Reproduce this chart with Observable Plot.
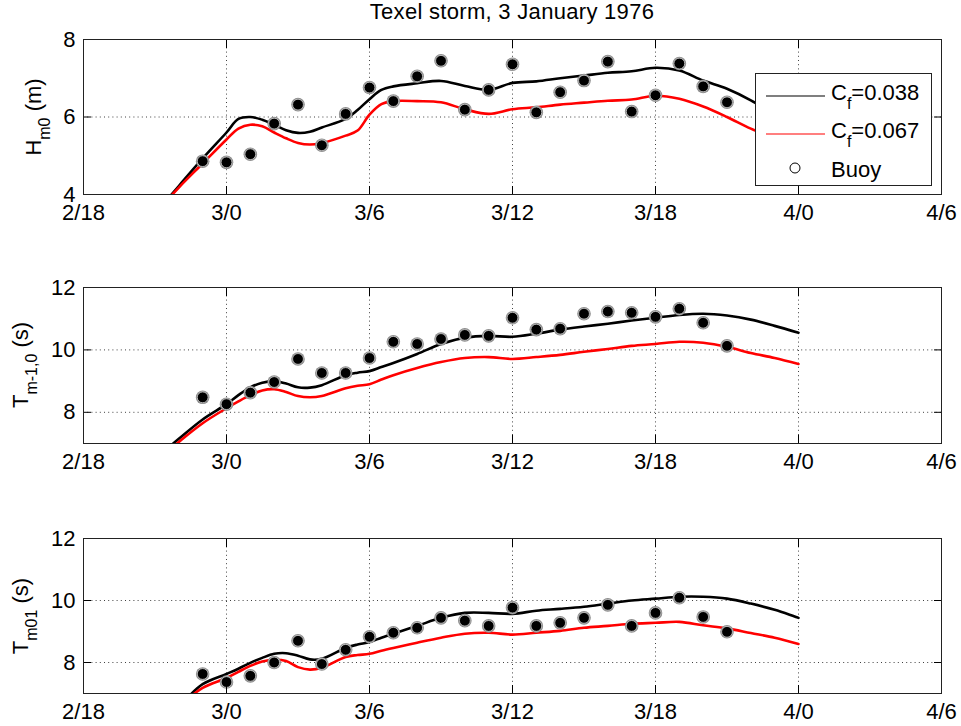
<!DOCTYPE html>
<html><head><meta charset="utf-8">
<script src="https://cdn.jsdelivr.net/npm/d3@7"></script>
<script src="https://cdn.jsdelivr.net/npm/@observablehq/plot@0.6"></script>
<style>
body{margin:0;background:#fff;}
#wrap{position:relative;width:961px;height:726px;font-family:"Liberation Sans",Arial,Helvetica,sans-serif;color:#000;overflow:hidden;}
.panel{position:absolute;left:0;}
.title{position:absolute;left:512px;top:1px;transform:translateX(-50%);font-size:22px;line-height:22px;white-space:nowrap;letter-spacing:0.3px;}
.ylab{position:absolute;transform:translate(-50%,-50%) rotate(-90deg);font-size:22px;line-height:22px;white-space:nowrap;}
.ylab sub{font-size:16px;vertical-align:-9px;line-height:0;}
.legend{position:absolute;}
</style></head><body><div id="wrap"></div>
<script>
// ---- data ----
const titleText = "Texel storm, 3 January 1976";
const xTickHours = [0, 6, 12, 18, 24, 30, 36];
const xTickLabels = ["2/18", "3/0", "3/6", "3/12", "3/18", "4/0", "4/6"];

const modelHours = [3,4,5,6,6.5,7,7.5,8,8.5,9,9.5,10,11,11.5,12,12.5,13,14,15,16,17,18,19,20,21,22,23,24,25,26,27,28,29,30];
const hm0_cf038 = [3.5,4.22,4.93,5.6,5.95,6.0,5.93,5.8,5.66,5.59,5.62,5.73,5.95,6.18,6.46,6.7,6.79,6.87,6.93,6.8,6.7,6.88,6.92,7.0,7.07,7.14,7.18,7.27,7.2,6.94,6.73,6.43,6.05,5.7];
const hm0_cf067 = [3.5,4.18,4.8,5.42,5.7,5.8,5.76,5.6,5.45,5.33,5.29,5.33,5.52,5.65,6.06,6.33,6.41,6.41,6.38,6.2,6.08,6.2,6.25,6.32,6.37,6.42,6.45,6.55,6.47,6.27,6.0,5.7,5.45,5.2];
const tm10_cf038 = [6.5,7.15,7.77,8.26,8.55,8.8,8.95,9.0,8.92,8.8,8.79,8.87,9.19,9.27,9.32,9.45,9.58,9.87,10.19,10.39,10.45,10.42,10.52,10.65,10.75,10.84,10.94,11.03,11.12,11.16,11.1,10.97,10.77,10.55];
const tm10_cf067 = [6.4,7.05,7.65,8.13,8.35,8.55,8.7,8.74,8.65,8.52,8.48,8.52,8.77,8.85,8.9,9.05,9.19,9.42,9.61,9.74,9.77,9.71,9.77,9.84,9.94,10.03,10.13,10.19,10.26,10.23,10.1,9.9,9.74,9.55];
const tm01_cf038 = [6.0,6.6,7.3,7.63,7.8,7.99,8.15,8.28,8.3,8.22,8.1,8.12,8.47,8.58,8.66,8.8,8.93,9.18,9.44,9.6,9.6,9.57,9.67,9.73,9.8,9.9,10.0,10.06,10.12,10.12,10.06,9.9,9.7,9.44];
const tm01_cf067 = [6.0,6.6,7.18,7.5,7.7,7.89,8.03,8.09,8.05,7.85,7.77,7.83,8.18,8.24,8.28,8.38,8.47,8.64,8.8,8.93,8.96,8.9,8.96,9.02,9.12,9.18,9.25,9.28,9.31,9.2,9.1,8.95,8.8,8.6];

const buoyHours = [5,6,7,8,9,10,11,12,13,14,15,16,17,18,19,20,21,22,23,24,25,26,27];
const hm0_buoy = [4.86,4.83,5.04,5.83,6.32,5.27,6.08,6.76,6.41,7.05,7.45,6.19,6.7,7.36,6.12,6.64,6.94,7.43,6.14,6.56,7.38,6.79,6.38];
const tm10_buoy = [8.48,8.26,8.63,8.97,9.71,9.26,9.26,9.74,10.26,10.19,10.35,10.48,10.45,11.03,10.65,10.68,11.16,11.23,11.19,11.06,11.32,10.87,10.13];
const tm01_buoy = [7.63,7.37,7.57,8.0,8.7,7.95,8.41,8.83,8.96,9.12,9.44,9.35,9.18,9.77,9.18,9.28,9.44,9.86,9.18,9.6,10.09,9.47,8.99];

const legendCf = ["0.038", "0.067"];
const legendColors = ["#000000", "#ff0000"];
const legendBuoy = "Buoy";

const FONT = '"Liberation Sans", Arial, Helvetica, sans-serif';
const wrap = document.getElementById("wrap");

const t = document.createElement("div");
t.className = "title"; t.textContent = titleText; wrap.appendChild(t);

function panel(cfg) {
  const lines = modelHours.map((h, i) => ({h, b: cfg.black[i], r: cfg.red[i]}));
  const pts = buoyHours.map((h, i) => ({h, v: cfg.buoy[i]}));
  const inner = cfg.yticks.filter(v => v > cfg.ydom[0] && v < cfg.ydom[1]);
  const grid = {stroke: "#000", strokeOpacity: 0.75, strokeDasharray: "1,3.2", strokeWidth: 1};
  const p = Plot.plot({
    width: 961, height: cfg.height,
    marginLeft: 83, marginRight: 20, marginTop: cfg.mt, marginBottom: cfg.mb,
    style: {fontFamily: FONT, fontSize: "22px", color: "#000", background: "transparent", overflow: "visible"},
    x: {domain: [0, 36]},
    y: {domain: cfg.ydom},
    marks: [
      Plot.gridX(xTickHours.slice(1, -1), grid),
      Plot.gridY(inner, grid),
      Plot.line(lines, {x: "h", y: "b", stroke: "#000", strokeWidth: 2.6, curve: "catmull-rom", clip: true}),
      Plot.line(lines, {x: "h", y: "r", stroke: "#ff0000", strokeWidth: 2.6, curve: "catmull-rom", clip: true}),
      Plot.dot(pts, {x: "h", y: "v", r: 6.8, fill: "#8c8c8c", stroke: "none"}),
      Plot.dot(pts, {x: "h", y: "v", r: 5.4, fill: "#000", stroke: "#e0e0e0", strokeWidth: 0.7}),
      Plot.axisX(xTickHours, {anchor: "bottom", tickSize: -8, tickPadding: 18, label: null,
        tickFormat: d => xTickLabels[xTickHours.indexOf(d)]}),
      Plot.axisX(xTickHours, {anchor: "top", tickSize: -8, label: null, tickFormat: () => ""}),
      Plot.axisY(cfg.yticks, {anchor: "left", tickSize: -8, tickPadding: 16, label: null}),
      Plot.axisY(cfg.yticks, {anchor: "right", tickSize: -8, label: null, tickFormat: () => ""}),
      Plot.frame({stroke: "#222"})
    ]
  });
  const d = document.createElement("div");
  d.className = "panel"; d.style.top = cfg.top + "px";
  d.appendChild(p); wrap.appendChild(d);

  const lab = document.createElement("div");
  lab.className = "ylab";
  lab.style.left = cfg.labX + "px";
  lab.style.top = (cfg.top + cfg.mt + (cfg.height - cfg.mt - cfg.mb) / 2) + "px";
  lab.innerHTML = cfg.label;
  wrap.appendChild(lab);
}

panel({top: 0, height: 240, mt: 39, mb: 46, ydom: [4, 8], yticks: [4, 6, 8],
  black: hm0_cf038, red: hm0_cf067, buoy: hm0_buoy, labX: 34, label: "H<sub>m0</sub> (m)"});
panel({top: 240, height: 240, mt: 47, mb: 37, ydom: [7, 12], yticks: [8, 10, 12],
  black: tm10_cf038, red: tm10_cf067, buoy: tm10_buoy, labX: 21, label: "T<sub>m-1,0</sub> (s)"});
panel({top: 480, height: 246, mt: 58, mb: 33, ydom: [7, 12], yticks: [8, 10, 12],
  black: tm01_cf038, red: tm01_cf067, buoy: tm01_buoy, labX: 21, label: "T<sub>m01</sub> (s)"});

// ---- legend ----
const NS = "http://www.w3.org/2000/svg";
const lg = d3.create("svg").attr("width", 179).attr("height", 115)
  .style("position", "absolute").style("left", "754px").style("top", "72px")
  .style("font-family", FONT).style("font-size", "22px");
lg.append("rect").attr("x", 1.5).attr("y", 1.5).attr("width", 176).attr("height", 112)
  .attr("fill", "#fff").attr("stroke", "#222").attr("stroke-width", 1);
const rowsY = [24, 62];
legendCf.forEach((v, i) => {
  lg.append("line").attr("x1", 12).attr("x2", 71).attr("y1", rowsY[i]).attr("y2", rowsY[i])
    .attr("stroke", legendColors[i]).attr("stroke-width", 1.2);
  const tx = lg.append("text").attr("x", 77).attr("y", rowsY[i] + 4);
  tx.append("tspan").text("C");
  tx.append("tspan").attr("dy", 9).attr("font-size", 16).text("f");
  tx.append("tspan").attr("dy", -9).text("=" + v);
});
lg.append("circle").attr("cx", 41).attr("cy", 96).attr("r", 5).attr("fill", "#fff").attr("stroke", "#000").attr("stroke-width", 1);
lg.append("text").attr("x", 77).attr("y", 105).text(legendBuoy);
wrap.appendChild(lg.node());
</script></body></html>
